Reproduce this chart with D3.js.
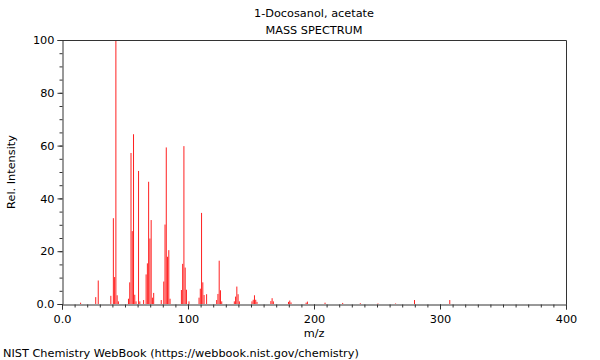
<!DOCTYPE html>
<html>
<head>
<meta charset="utf-8">
<script src="https://cdn.jsdelivr.net/npm/d3@7"></script>
<style>
  body { margin: 0; background: #fff; }
  svg text { font-family: "DejaVu Sans", sans-serif; font-size: 11.3px; fill: #000; }
</style>
</head>
<body>
<div id="chart"><svg></svg></div>
<script>
// m/z and relative intensity
const mz = [15, 27, 29, 39, 41, 42, 43, 44, 45,
  53, 54, 55, 56, 57, 58, 59, 61, 62, 65,
  67, 68, 69, 70, 71, 72, 73, 79, 81, 82, 83, 84, 85, 86,
  95, 96, 97, 98, 99, 101, 109, 110, 111, 112, 113, 115,
  123, 124, 125, 126, 127, 137, 138, 139, 140, 141,
  151, 152, 153, 154, 155, 166, 167, 168, 180, 181, 182,
  194, 195, 209, 223, 237, 251, 265, 280, 308];
const intensity = [0.5, 2.6, 8.9, 3.1, 32.5, 10.2, 100, 3.3, 1,
  2, 8.2, 57.2, 27.6, 64.3, 3.5, 1, 50.4, 1, 1.5,
  11.2, 15.4, 46.3, 24.8, 31.8, 2.4, 4.2, 1.5, 8.5, 30.1, 59.3, 17.9, 20.4, 2,
  5.3, 15.2, 59.8, 13.8, 5.4, 1, 2.4, 5.8, 34.5, 8.2, 3.4, 3.7,
  1.5, 3.8, 16.4, 5.2, 1, 1, 2.8, 6.6, 3.7, 1,
  1, 1.6, 3.3, 1.6, 0.8, 1.1, 2.2, 1, 0.8, 1.3, 0.6,
  0.5, 0.9, 0.5, 0.4, 0.3, 0.2, 0.2, 1.5, 1.5];

const xTicks = [0, 100, 200, 300, 400];
const xTickLabels = ["0.0", "100", "200", "300", "400"];
const yTicks = [0, 20, 40, 60, 80, 100];
const yTickLabels = ["0.0", "20", "40", "60", "80", "100"];

const titleLines = ["1-Docosanol, acetate", "MASS SPECTRUM"];
const footer = "NIST Chemistry WebBook (https://webbook.nist.gov/chemistry)";

var margin = { top: 40, right: 34, bottom: 56, left: 62 };
var width = 600 - margin.left - margin.right;
var height = 360 - margin.top - margin.bottom;

var svg = d3.select("#chart > svg").attr("width", 600).attr("height", 360);

var g = svg.append("g")
  .attr("transform", `translate(${margin.left}, ${margin.top})`);

var x = d3.scaleLinear().domain([0, 400]).range([-0.3, width - 0.3]);
var y = d3.scaleLinear().domain([0, 100]).range([height, 0]);

// peaks
g.selectAll("line.peak")
  .data(mz)
  .enter()
  .append("line")
  .attr("class", "peak")
  .attr("x1", d => x(d))
  .attr("x2", d => x(d))
  .attr("y1", y(0))
  .attr("y2", (d, i) => y(intensity[i]))
  .attr("stroke", "#ff2020")
  .attr("stroke-width", 1);

// frame top + right
g.append("path")
  .attr("d", `M0.5,0.5H${width + 0.5}V${height + 0.5}`)
  .attr("fill", "none")
  .attr("stroke", "#333");

// minor ticks
var yMinor = g.append("g")
  .attr("transform", "translate(0.5,0)")
  .call(d3.axisLeft(y).tickValues(d3.range(0, 101, 5)).tickSize(3).tickFormat(""));
var xMinor = g.append("g")
  .attr("transform", `translate(0, ${height + 0.5})`)
  .call(d3.axisBottom(x.copy().range([0, width])).tickValues(d3.range(0, 401, 10)).tickSize(3).tickFormat(""));

var yAxis = g.append("g")
  .attr("transform", "translate(0.5,0)")
  .call(d3.axisLeft(y).tickValues(yTicks).tickSize(5).tickPadding(3)
    .tickFormat((d, i) => yTickLabels[i]));
var xAxis = g.append("g")
  .attr("transform", `translate(0, ${height + 0.5})`)
  .call(d3.axisBottom(x.copy().range([0, width])).tickValues(xTicks).tickSize(5).tickPadding(5)
    .tickFormat((d, i) => xTickLabels[i]));

[yMinor, xMinor, yAxis, xAxis].forEach(a => {
  a.attr("font-family", null).attr("font-size", null);
  a.selectAll("path.domain").attr("stroke", "#333");
  a.selectAll(".tick line").attr("stroke", "#333");
});
xMinor.select("path.domain").remove();
yMinor.select("path.domain").remove();
yAxis.selectAll(".tick text").attr("font-size", "11.5px");
xAxis.selectAll(".tick text").attr("font-size", "11.5px");

svg.selectAll("text.title")
  .data(titleLines)
  .enter()
  .append("text")
  .attr("class", "title")
  .attr("x", margin.left + width / 2)
  .attr("y", (d, i) => 17 + i * 17)
  .attr("text-anchor", "middle")
  .text(d => d);

svg.append("text")
  .attr("x", margin.left + width / 2)
  .attr("y", 337)
  .attr("text-anchor", "middle")
  .text("m/z");

svg.append("text")
  .attr("transform", `translate(15, ${margin.top + height / 2}) rotate(-90)`)
  .attr("text-anchor", "middle")
  .text("Rel. Intensity");

svg.append("text")
  .attr("x", 3)
  .attr("y", 357)
  .text(footer);
</script>
</body>
</html>
